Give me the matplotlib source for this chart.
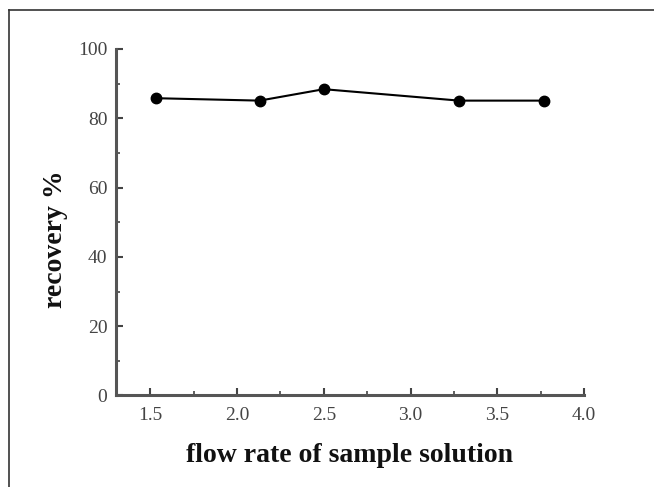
import matplotlib
matplotlib.use("Agg")
import matplotlib.pyplot as plt
from matplotlib.lines import Line2D
from matplotlib.ticker import MultipleLocator

flow_rate = [1.53, 2.13, 2.50, 3.28, 3.77]
recovery = [85.8, 85.1, 88.4, 85.1, 85.1]
x_ticks = [1.5, 2.0, 2.5, 3.0, 3.5, 4.0]
y_ticks = [0, 20, 40, 60, 80, 100]

plt.rcParams["font.family"] = ["Liberation Serif", "DejaVu Serif"]

fig = plt.figure(figsize=(6.54, 4.87), dpi=100)
ax = fig.add_axes([0.1768, 0.1879, 0.893 - 0.1768, 0.8994 - 0.1879])

ax.plot(flow_rate, recovery, color="black", lw=1.5, marker="o",
        markersize=7.5, markerfacecolor="black", markeredgecolor="black")

ax.set_xlim(1.3, 4.0)
ax.set_ylim(0, 100)
ax.set_xticks(x_ticks)
ax.set_yticks(y_ticks)
ax.set_xticklabels([f"{v:.1f}" for v in x_ticks])
ax.xaxis.set_minor_locator(MultipleLocator(0.25))
ax.yaxis.set_minor_locator(MultipleLocator(10))

for side in ("top", "right"):
    ax.spines[side].set_visible(False)
for side in ("left", "bottom"):
    ax.spines[side].set_linewidth(2.2)
    ax.spines[side].set_color("#555555")

ax.tick_params(which="major", direction="in", length=5, width=1.5,
               color="#444444", labelsize=14, labelcolor="#444444")
ax.tick_params(axis="y", which="major", pad=6)
ax.tick_params(axis="x", which="major", pad=8)
ax.tick_params(which="minor", direction="in", length=3, width=1.2,
               color="#444444")

ax.set_xlabel("flow rate of sample solution", fontsize=20,
              fontweight="bold", labelpad=14, color="#111111")
ax.set_ylabel("recovery %", fontsize=20, fontweight="bold", labelpad=7,
              color="#111111")
ax.yaxis.label.set_y(0.452)

# frame lines along the top and left edges of the figure
fig.add_artist(Line2D([9 / 654, 1.0], [1 - 10 / 487, 1 - 10 / 487],
                      transform=fig.transFigure, color="#333333", lw=1.2))
fig.add_artist(Line2D([9 / 654, 9 / 654], [0.0, 1 - 10 / 487],
                      transform=fig.transFigure, color="#333333", lw=1.2))

fig.savefig("out.png", dpi=100)
